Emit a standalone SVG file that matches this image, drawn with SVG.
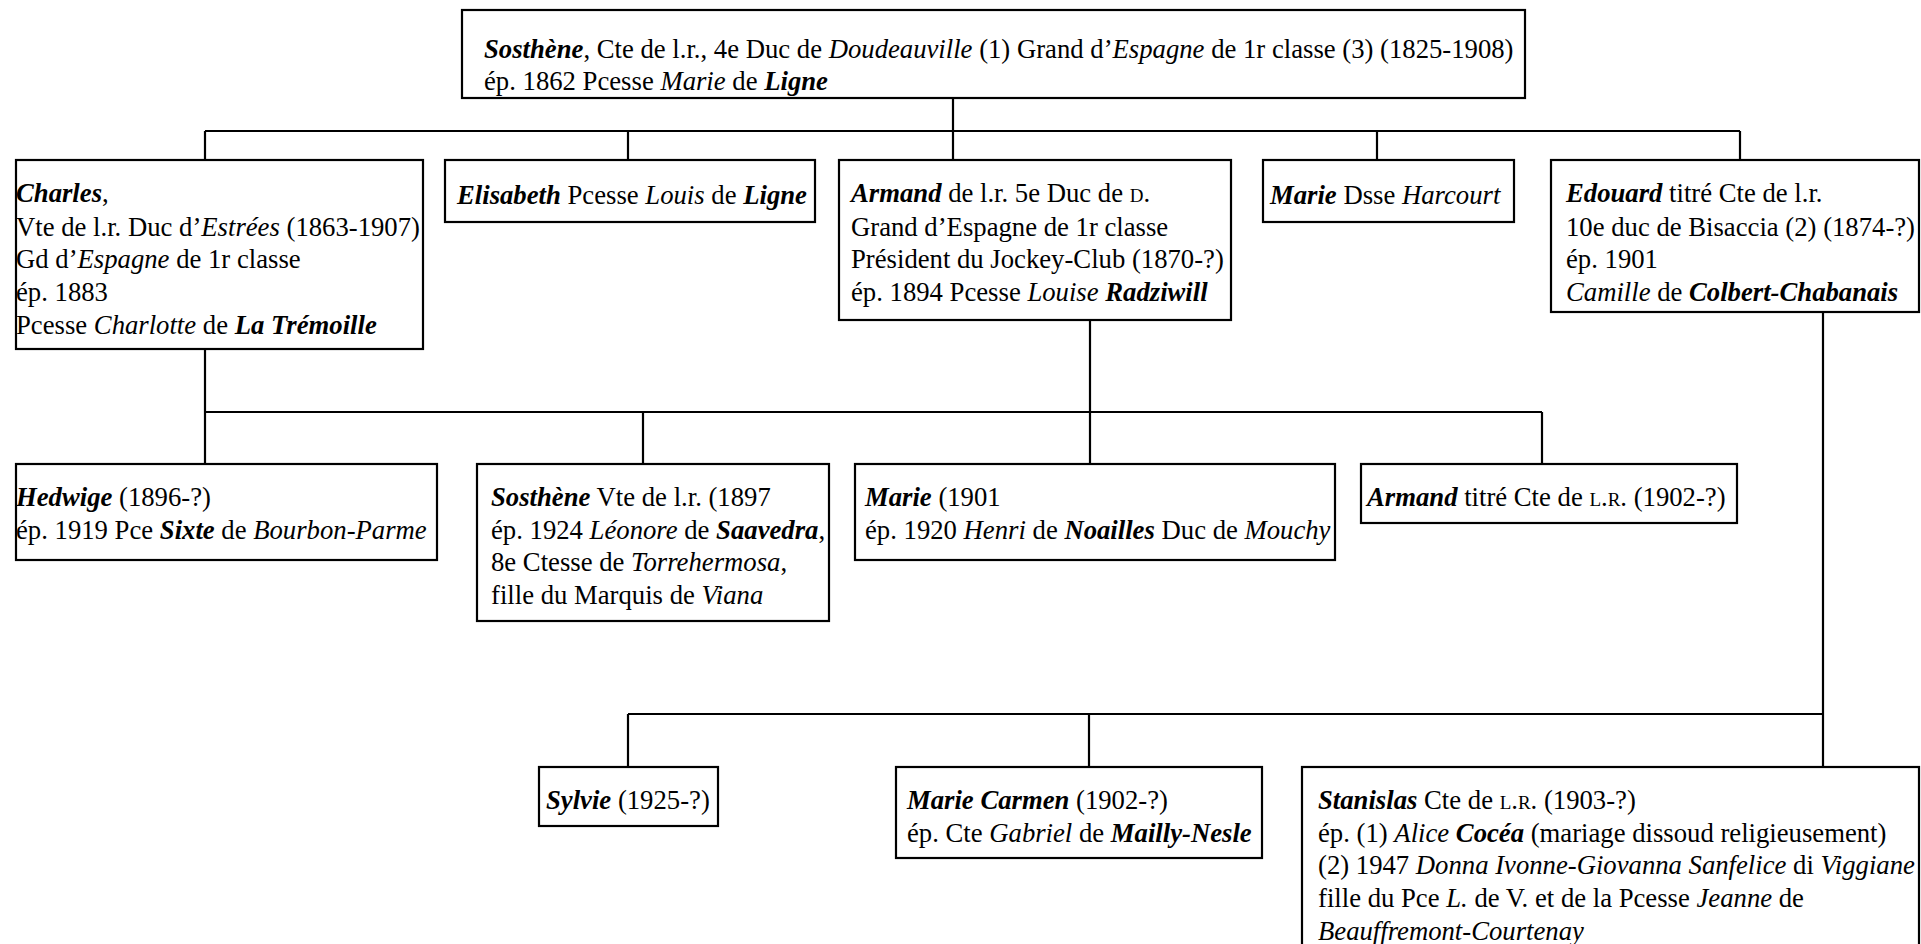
<svg xmlns="http://www.w3.org/2000/svg" width="1921" height="944" viewBox="0 0 1921 944">
<style>
.box{fill:#fff;stroke:#000;stroke-width:2.2}
.ln{fill:none;stroke:#000;stroke-width:2.2}
text{font-family:"Liberation Serif","Times New Roman","DejaVu Serif",serif;font-size:26.7px;fill:#000}
.i{font-style:italic}
.b{font-weight:bold}
.bi{font-weight:bold;font-style:italic}
.sc{font-variant:small-caps}
</style>
<rect width="1921" height="944" fill="#fff"/>
<g id="connectors">
<path class="ln" d="M953 98V131M205 131H1740M205 131V160M628 131V160M953 131V160M1377 131V160M1740 131V160"/>
<path class="ln" d="M205 349V412M1090 320V412M205 412H1542M205 412V464M643 412V464M1090 412V464M1542 412V464"/>
<path class="ln" d="M1823 312V714M628 714H1823M628 714V767M1089 714V767M1823 714V767"/>
</g>
<g id="n-sosthene">
<rect class="box" x="462" y="10" width="1063" height="88"/>
<text x="484" y="58"><tspan class="bi">Sosthène</tspan>, Cte de l.r., 4e Duc de <tspan class="i">Doudeauville</tspan> (1) Grand d’<tspan class="i">Espagne</tspan> de 1r classe (3) (1825-1908)</text>
<text x="484" y="90">ép. 1862 Pcesse <tspan class="i">Marie</tspan> de <tspan class="bi">Ligne</tspan></text>
</g>
<g id="n-charles">
<rect class="box" x="16" y="160" width="407" height="189"/>
<text x="16" y="202"><tspan class="bi">Charles</tspan>,</text>
<text x="16" y="236">Vte de l.r. Duc d’<tspan class="i">Estrées</tspan> (1863-1907)</text>
<text x="16" y="268">Gd d’<tspan class="i">Espagne</tspan> de 1r classe</text>
<text x="16" y="301">ép. 1883</text>
<text x="16" y="334">Pcesse <tspan class="i">Charlotte</tspan> de <tspan class="bi">La Trémoille</tspan></text>
</g>
<g id="n-elisabeth">
<rect class="box" x="445" y="160" width="370" height="62"/>
<text x="457" y="204"><tspan class="bi">Elisabeth</tspan> Pcesse <tspan class="i">Louis</tspan> de <tspan class="bi">Ligne</tspan></text>
</g>
<g id="n-armand">
<rect class="box" x="839" y="160" width="392" height="160"/>
<text x="851" y="202"><tspan class="bi">Armand</tspan> de l.r. 5e Duc de <tspan class="sc">d.</tspan></text>
<text x="851" y="236">Grand d’Espagne de 1r classe</text>
<text x="851" y="268">Président du Jockey-Club (1870-?)</text>
<text x="851" y="301">ép. 1894 Pcesse <tspan class="i">Louise</tspan> <tspan class="bi">Radziwill</tspan></text>
</g>
<g id="n-marie-dsse">
<rect class="box" x="1263" y="160" width="251" height="62"/>
<text x="1270" y="204"><tspan class="bi">Marie</tspan> Dsse <tspan class="i">Harcourt</tspan></text>
</g>
<g id="n-edouard">
<rect class="box" x="1551" y="160" width="368" height="152"/>
<text x="1566" y="202"><tspan class="bi">Edouard</tspan> titré Cte de l.r.</text>
<text x="1566" y="236">10e duc de Bisaccia (2) (1874-?)</text>
<text x="1566" y="268">ép. 1901</text>
<text x="1566" y="301"><tspan class="i">Camille</tspan> de <tspan class="bi">Colbert-Chabanais</tspan></text>
</g>
<g id="n-hedwige">
<rect class="box" x="16" y="464" width="421" height="96"/>
<text x="16" y="506"><tspan class="bi">Hedwige</tspan> (1896-?)</text>
<text x="16" y="539">ép. 1919 Pce <tspan class="bi">Sixte</tspan> de <tspan class="i">Bourbon-Parme</tspan></text>
</g>
<g id="n-sosthene2">
<rect class="box" x="477" y="464" width="352" height="157"/>
<text x="491" y="506"><tspan class="bi">Sosthène</tspan> Vte de l.r. (1897</text>
<text x="491" y="539">ép. 1924 <tspan class="i">Léonore</tspan> de <tspan class="bi">Saavedra</tspan>,</text>
<text x="491" y="571">8e Ctesse de <tspan class="i">Torrehermosa</tspan>,</text>
<text x="491" y="604">fille du Marquis de <tspan class="i">Viana</tspan></text>
</g>
<g id="n-marie1901">
<rect class="box" x="855" y="464" width="480" height="96"/>
<text x="865" y="506"><tspan class="bi">Marie</tspan> (1901</text>
<text x="865" y="539">ép. 1920 <tspan class="i">Henri</tspan> de <tspan class="bi">Noailles</tspan> Duc de <tspan class="i">Mouchy</tspan></text>
</g>
<g id="n-armand2">
<rect class="box" x="1361" y="464" width="376" height="59"/>
<text x="1367" y="506"><tspan class="bi">Armand</tspan> titré Cte de <tspan class="sc">l.r.</tspan> (1902-?)</text>
</g>
<g id="n-sylvie">
<rect class="box" x="539" y="767" width="179" height="59"/>
<text x="546" y="809"><tspan class="bi">Sylvie</tspan> (1925-?)</text>
</g>
<g id="n-mariecarmen">
<rect class="box" x="896" y="767" width="366" height="91"/>
<text x="907" y="809"><tspan class="bi">Marie Carmen</tspan> (1902-?)</text>
<text x="907" y="842">ép. Cte <tspan class="i">Gabriel</tspan> de <tspan class="bi">Mailly-Nesle</tspan></text>
</g>
<g id="n-stanislas">
<rect class="box" x="1302" y="767" width="617" height="200"/>
<text x="1318" y="809"><tspan class="bi">Stanislas</tspan> Cte de <tspan class="sc">l.r.</tspan> (1903-?)</text>
<text x="1318" y="842">ép. (1) <tspan class="i">Alice</tspan> <tspan class="bi">Cocéa</tspan> (mariage dissoud religieusement)</text>
<text x="1318" y="874">(2) 1947 <tspan class="i">Donna Ivonne-Giovanna Sanfelice</tspan> di <tspan class="i">Viggiane</tspan></text>
<text x="1318" y="907">fille du Pce <tspan class="i">L.</tspan> de V. et de la Pcesse <tspan class="i">Jeanne</tspan> de</text>
<text x="1318" y="940"><tspan class="i">Beauffremont-Courtenay</tspan></text>
</g>
</svg>
